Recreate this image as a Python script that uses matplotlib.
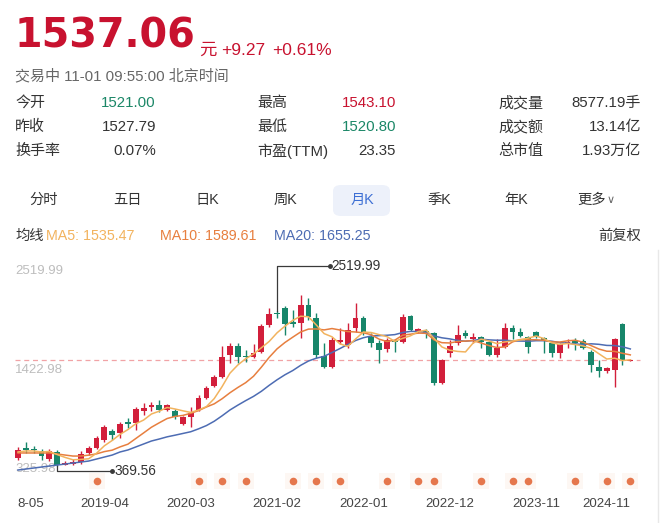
import matplotlib
matplotlib.use("Agg")
import numpy as np
import matplotlib.pyplot as plt
from matplotlib.patches import FancyBboxPatch
from matplotlib.transforms import blended_transform_factory

# monthly candles 2018-05 .. 2024-11 (forward adjusted)
opens = [452, 563, 552, 530, 441, 519, 380, 386, 408, 508,
         563, 651, 750, 728, 849, 838, 971, 1015, 1037, 982,
         971, 827, 905, 982, 1114, 1247, 1346, 1588, 1688, 1577,
         1566, 1622, 1919, 2052, 2107, 1952, 1941, 2140, 1997, 1577,
         1456, 1732, 1699, 1886, 1997, 1787, 1721, 1655, 1754, 1732,
         2019, 1842, 1853, 1831, 1280, 1611, 1721, 1831, 1765, 1787,
         1732, 1588, 1677, 1886, 1842, 1787, 1842, 1776, 1721, 1611,
         1721, 1743, 1743, 1622, 1456, 1412, 1423, 1930, 1521.00]
closes = [541, 541, 541, 474, 530, 375, 400, 408, 497, 563,
          673, 794, 706, 827, 827, 993, 1004, 1037, 982, 1037,
          905, 905, 949, 1114, 1224, 1346, 1566, 1688, 1566, 1566,
          1611, 1908, 2041, 2041, 1930, 1930, 2140, 2008, 1588, 1456,
          1754, 1754, 1864, 1997, 1842, 1721, 1644, 1754, 1732, 2008,
          1864, 1875, 1831, 1280, 1533, 1688, 1809, 1798, 1787, 1732,
          1588, 1666, 1886, 1842, 1798, 1677, 1787, 1743, 1611, 1710,
          1732, 1721, 1666, 1478, 1412, 1445, 1765, 1527.79, 1537.06]
highs = [574, 629, 585, 552, 552, 541, 420, 441, 530, 585,
         695, 816, 772, 849, 894, 1015, 1059, 1070, 1092, 1048,
         993, 916, 1015, 1147, 1247, 1368, 1688, 1721, 1721, 1644,
         1710, 1930, 2107, 2074, 2129, 2085, 2250, 2217, 2052, 1721,
         1787, 1886, 1941, 2162, 2019, 1831, 1754, 1776, 1765, 2041,
         2030, 1886, 1875, 1842, 1544, 1754, 1919, 1864, 1831, 1798,
         1743, 1765, 1941, 1919, 1886, 1798, 1853, 1787, 1732, 1721,
         1765, 1776, 1765, 1644, 1533, 1456, 1776, 1941, 1543.10]
lows = [430, 508, 508, 430, 419, 369.56, 372, 375, 386, 485,
        552, 629, 651, 673, 783, 761, 927, 971, 960, 971,
        883, 816, 794, 971, 1103, 1235, 1335, 1500, 1500, 1511,
        1555, 1611, 1897, 1997, 1809, 1897, 1776, 1975, 1555, 1445,
        1445, 1710, 1666, 1842, 1809, 1677, 1500, 1622, 1622, 1721,
        1853, 1831, 1776, 1258, 1269, 1566, 1699, 1776, 1721, 1666,
        1577, 1566, 1666, 1765, 1787, 1611, 1776, 1611, 1566, 1555,
        1666, 1644, 1655, 1401, 1346, 1390, 1235, 1478, 1520.80]

ma5 = [519, 530, 530, 519, 525, 490, 459, 433, 437, 444,
       505, 587, 646, 713, 766, 830, 871, 938, 969, 1010,
       993, 973, 955, 982, 1019, 1108, 1240, 1388, 1478, 1547,
       1599, 1668, 1738, 1833, 1906, 1970, 2016, 2010, 1919, 1824,
       1789, 1712, 1683, 1765, 1842, 1836, 1813, 1791, 1738, 1772,
       1800, 1847, 1862, 1772, 1677, 1641, 1628, 1622, 1723, 1763,
       1743, 1714, 1732, 1743, 1756, 1774, 1798, 1769, 1723, 1705,
       1716, 1703, 1688, 1661, 1602, 1544, 1553, 1527, 1535.47]
ma10 = [508, 508, 508, 508, 508, 497, 485, 474, 474, 484,
        498, 523, 539, 575, 605, 667, 729, 792, 841, 888,
        911, 922, 946, 975, 1015, 1050, 1106, 1172, 1230, 1283,
        1354, 1454, 1563, 1656, 1726, 1785, 1842, 1874, 1876, 1865,
        1880, 1864, 1847, 1842, 1833, 1812, 1763, 1737, 1752, 1807,
        1818, 1830, 1827, 1755, 1724, 1721, 1737, 1742, 1747, 1720,
        1692, 1671, 1677, 1733, 1759, 1758, 1756, 1751, 1733, 1731,
        1745, 1751, 1729, 1692, 1654, 1630, 1628, 1607, 1589.61]
ma20 = [320, 331, 342, 353, 364, 375, 386, 397, 408, 419,
        441, 463, 485, 519, 541, 574, 607, 640, 662, 686,
        704, 723, 742, 774, 810, 858, 918, 982, 1035, 1085,
        1132, 1188, 1254, 1315, 1370, 1417, 1474, 1522, 1553, 1574,
        1616, 1659, 1704, 1748, 1779, 1798, 1802, 1806, 1813, 1836,
        1849, 1847, 1837, 1798, 1778, 1766, 1749, 1740, 1749, 1763,
        1755, 1751, 1752, 1744, 1742, 1740, 1746, 1746, 1740, 1725,
        1719, 1711, 1702, 1712, 1706, 1694, 1692, 1679, 1655.25]

month_labels = ["2018-05", "2019-04", "2020-03", "2021-02",
                "2022-01", "2022-12", "2023-11", "2024-11"]
month_pos = [0, 11, 22, 33, 44, 55, 66, 78]
div_months = [10, 23, 26, 29, 35, 38, 41, 47, 51, 53, 59, 63, 65, 71, 75, 78]
axis_levels = [2519.99, 1422.98, 325.98]
last_price = 1537.06

RED = "#c8122f"
GREEN = "#1b8767"
C_UP = "#d21f3b"
C_DN = "#17866a"
C_MA5 = "#f2b35e"
C_MA10 = "#e77f3f"
C_MA20 = "#4d6cb3"

plt.rcParams["font.family"] = ["Liberation Sans", "Noto Sans CJK SC", "DejaVu Sans"]

W, H = 660, 523
fig = plt.figure(figsize=(6.6, 5.23), dpi=100)
fig.patch.set_facecolor("white")


def T(x, y, s, **kw):
    # place text in pixel coords (origin top-left)
    return fig.text(x / W, 1 - y / H, s, **kw)


# header
T(15, 47, "1537.06", fontsize=28.6, fontweight="bold", family="DejaVu Sans",
  color=RED, va="baseline")
T(199, 55, "元", fontsize=12.5, color=RED, va="baseline")
T(221, 55, "+9.27", fontsize=12.5, color=RED, va="baseline")
T(272, 55, "+0.61%", fontsize=12.5, color=RED, va="baseline")
T(15, 76, "交易中 11-01 09:55:00 北京时间", fontsize=10.8, color="#666666", va="center")

rows = [
    [("今开", "1521.00", GREEN), ("最高", "1543.10", RED), ("成交量", "8577.19手", "#333333")],
    [("昨收", "1527.79", "#333333"), ("最低", "1520.80", GREEN), ("成交额", "13.14亿", "#333333")],
    [("换手率", "0.07%", "#333333"), ("市盈(TTM)", "23.35", "#333333"), ("总市值", "1.93万亿", "#333333")],
]
col_lab = [15, 257, 498]
col_val = [156, 396, 641]
for r, row in enumerate(rows):
    y = 103 + 24 * r
    for k, (lab, val, col) in enumerate(row):
        T(col_lab[k], y, lab, fontsize=10.8, color="#333333", va="center")
        T(col_val[k], y, val, fontsize=10.8, color=col, va="center", ha="right")

# period tabs
tabs = ["分时", "五日", "日K", "周K", "月K", "季K", "年K", "更多"]
tab_x = [44, 127, 207, 285, 362, 439, 516, 592]
fig.patches.append(FancyBboxPatch((333 / W, 1 - 216 / H), 57 / W, 31 / H,
                                  boxstyle="round,pad=0,rounding_size=0.012",
                                  transform=fig.transFigure, facecolor="#edf1fa",
                                  edgecolor="none"))
for name, x in zip(tabs, tab_x):
    col = "#3d6fd4" if name == "月K" else "#333333"
    T(x, 200, name, fontsize=10.3, color=col, ha="center", va="center")
T(611, 200, "∨", fontsize=8, color="#666666", ha="center", va="center",
  family="DejaVu Sans")

# MA legend row
T(15, 236, "均线", fontsize=10.3, color="#333333", va="center")
T(46, 236, "MA5: 1535.47", fontsize=10.3, color=C_MA5, va="center")
T(160, 236, "MA10: 1589.61", fontsize=10.3, color=C_MA10, va="center")
T(274, 236, "MA20: 1655.25", fontsize=10.3, color=C_MA20, va="center")
T(641, 236, "前复权", fontsize=10.3, color="#333333", va="center", ha="right")

# main chart
ax = fig.add_axes([15 / W, 1 - 515 / H, 630 / W, 260 / H])
ax.set_xlim(-0.382, 79.87)
ax.set_ylim(-176, 2691)
ax.axis("off")

idx = np.arange(len(opens))
o = np.array(opens, dtype=float)
c = np.array(closes, dtype=float)
hi = np.array(highs, dtype=float)
lo = np.array(lows, dtype=float)
cols = np.where(c >= o, C_UP, C_DN)

# price levels on the left
tr_y = blended_transform_factory(ax.transAxes, ax.transData)
for v in axis_levels:
    ax.text(0, v, f"{v:.2f}", transform=tr_y, fontsize=9.5, color="#bdbdbd",
            ha="left", va="center", zorder=1)

ax.axhline(last_price, xmin=0, xmax=0.992, color="#f1a3a6", lw=0.9,
           ls=(0, (4, 3)), zorder=1)

ax.vlines(idx, lo, hi, colors=cols, lw=1, zorder=2)
body_lo = np.minimum(o, c)
body_h = np.maximum(np.abs(c - o), 12)
ax.bar(idx, body_h, bottom=body_lo, width=0.74, color=cols, lw=0, zorder=2)

ax.plot(idx, ma20, color=C_MA20, lw=1.1, zorder=3)
ax.plot(idx, ma10, color=C_MA10, lw=1.1, zorder=3)
ax.plot(idx, ma5, color=C_MA5, lw=1.1, zorder=3)

# max / min markers
hx = 33
ytop = 2575
ax.plot([hx, hx, hx + 6.7], [highs[hx], ytop, ytop], color="#3a3a3a", lw=0.9, zorder=4)
ax.plot(hx + 6.7, ytop, "o", color="#3a3a3a", ms=2.5, zorder=4)
ax.text(hx + 6.95, ytop, "2519.99", fontsize=9.8, color="#333333", va="center", zorder=4)

lx = 5
ybot = 309
ax.plot([lx, lx, lx + 7.0], [lows[lx], ybot, ybot], color="#3a3a3a", lw=0.9, zorder=4)
ax.plot(lx + 7.0, ybot, "o", color="#3a3a3a", ms=2.5, zorder=4)
ax.text(lx + 7.25, ybot, "369.56", fontsize=9.8, color="#333333", va="center", zorder=4)

# event dots
tr_x = blended_transform_factory(ax.transData, ax.transAxes)
ax.scatter(div_months, [0.131] * len(div_months), transform=tr_x, marker="s",
           s=120, color="#fdf7f3", lw=0, zorder=1, clip_on=False)
ax.scatter(div_months, [0.131] * len(div_months), transform=tr_x, s=30,
           color="#e5774d", lw=0, zorder=2, clip_on=False)

# month labels; the first one runs off the left edge, so only its tail shows
for lab, p in zip(month_labels, month_pos):
    if p == month_pos[0]:
        ax.text(p - 0.12, 0.042, lab[-4:], transform=tr_x, fontsize=9.5,
                color="#444444", ha="left", va="center")
    elif p == month_pos[-1]:
        ax.text(p, 0.042, lab, transform=tr_x, fontsize=9.5, color="#444444",
                ha="right", va="center")
    else:
        ax.text(p, 0.042, lab, transform=tr_x, fontsize=9.5, color="#444444",
                ha="center", va="center")

fig.add_artist(plt.Line2D([657.5 / W, 657.5 / W], [0, 1 - 250 / H],
                          transform=fig.transFigure, color="#e8e8e8", lw=1))

fig.savefig("out.png", dpi=100)
